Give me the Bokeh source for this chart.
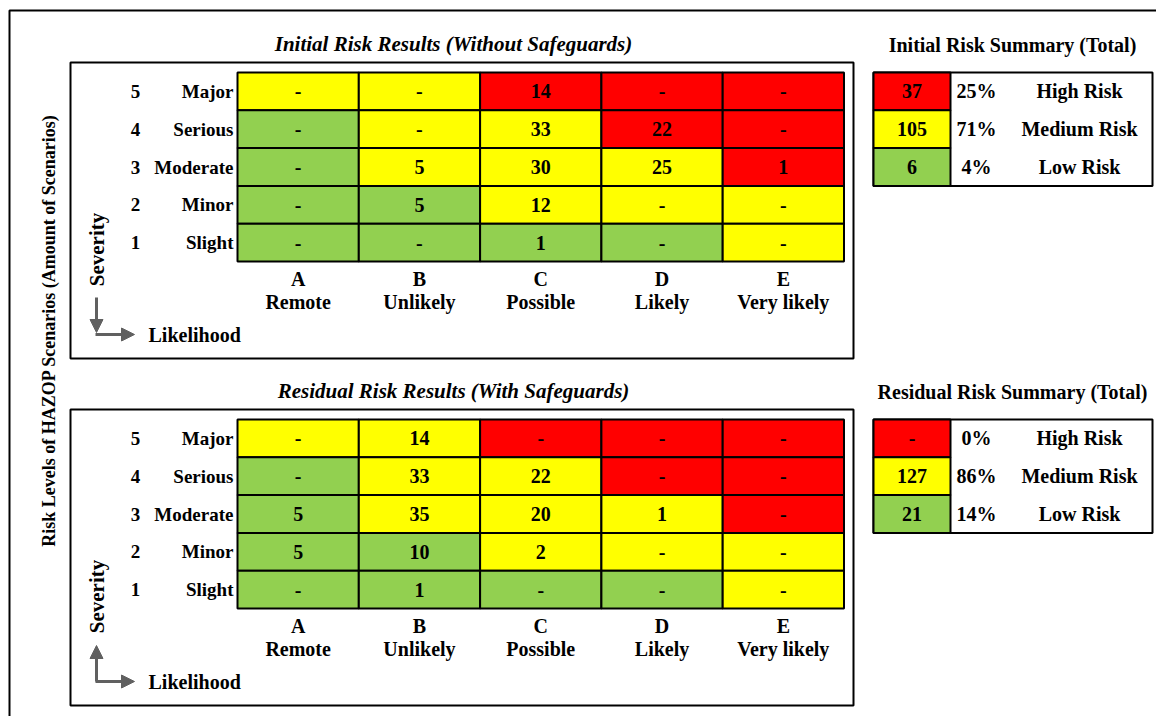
import math
from bokeh.plotting import figure
from bokeh.models import Range1d, Arrow, NormalHead
from bokeh.core.properties import value
from bokeh.embed import file_html
from bokeh.resources import INLINE

# ---------------- data ----------------
likelihood_letters = ["A", "B", "C", "D", "E"]
likelihood_names = ["Remote", "Unlikely", "Possible", "Likely", "Very likely"]
severity_levels = [5, 4, 3, 2, 1]
severity_names = ["Major", "Serious", "Moderate", "Minor", "Slight"]

# risk class per cell (rows: severity 5..1, cols: likelihood A..E)
risk_class = [
    ["M", "M", "H", "H", "H"],
    ["L", "M", "M", "H", "H"],
    ["L", "M", "M", "M", "H"],
    ["L", "L", "M", "M", "M"],
    ["L", "L", "L", "L", "M"],
]
initial_counts = [
    [0, 0, 14, 0, 0],
    [0, 0, 33, 22, 0],
    [0, 5, 30, 25, 1],
    [0, 5, 12, 0, 0],
    [0, 0, 1, 0, 0],
]
residual_counts = [
    [0, 14, 0, 0, 0],
    [0, 33, 22, 0, 0],
    [5, 35, 20, 1, 0],
    [5, 10, 2, 0, 0],
    [0, 1, 0, 0, 0],
]
summary_classes = ["H", "M", "L"]
summary_labels = ["High Risk", "Medium Risk", "Low Risk"]
initial_summary = [37, 105, 6]
initial_pct = ["25%", "71%", "4%"]
residual_summary = [0, 127, 21]
residual_pct = ["0%", "86%", "14%"]

titles = ["Initial Risk Results (Without Safeguards)", "Residual Risk Results (With Safeguards)"]
summary_titles = ["Initial Risk Summary (Total)", "Residual Risk Summary (Total)"]
main_title = "Risk Levels of HAZOP Scenarios (Amount of Scenarios)"

colors = {"H": "#FF0000", "M": "#FFFF00", "L": "#92D050"}

# ---------------- layout ----------------
W, H = 1156, 716
FONT = value("Liberation Serif")
p = figure(width=W, height=H, x_range=Range1d(0, W), y_range=Range1d(H, 0),
           output_backend="svg", toolbar_location=None, min_border=0,
           x_axis_location=None, y_axis_location=None)
p.grid.visible = False
p.outline_line_color = None
p.background_fill_color = "white"

# outer border
p.quad(left=[9], right=[1175], top=[10], bottom=[735], fill_color=None,
       line_color="black", line_width=2)


def txt(xs, ys, texts, align="center", style="bold", size="20px", color="black", angle=0.0):
    p.text(x=xs, y=ys, text=texts, angle=angle, text_align=align, text_baseline="middle",
           text_font=FONT, text_font_style=style, text_font_size=size, text_color=color)


# vertical main title
txt([48], [330], [main_title], size="18px", angle=math.pi / 2)

GX0, GY0 = 237.0, 72.0
CW, CH = 121.3, 37.8
PANEL_DY = 347.0
SX0, SCW0, SW = 873.0, 77.0, 279.0
GREY = "#606060"

for k, counts in enumerate([initial_counts, residual_counts]):
    dy = k * PANEL_DY
    gy0 = GY0 + dy
    # box
    p.quad(left=[70], right=[853], top=[62 + dy], bottom=[358 + dy], fill_color=None,
           line_color="black", line_width=2)
    # title
    txt([453], [43 + dy], [titles[k]], style="bold italic", size="21px")
    # cells
    xs, ys, fc, labels = [], [], [], []
    for r in range(5):
        for c in range(5):
            xs.append(GX0 + CW * (c + 0.5))
            ys.append(gy0 + CH * (r + 0.5))
            fc.append(colors[risk_class[r][c]])
            v = counts[r][c]
            labels.append(str(v) if v else "-")
    p.rect(x=xs, y=ys, width=CW, height=CH, fill_color=fc, line_color="black", line_width=2)
    txt(xs, ys, labels)
    # row labels
    rys = [gy0 + CH * (r + 0.5) for r in range(5)]
    txt([135] * 5, rys, [str(s) for s in severity_levels], size="19px")
    txt([233] * 5, rys, severity_names, align="right", size="19px")
    # column labels
    cxs = [GX0 + CW * (c + 0.5) for c in range(5)]
    txt(cxs, [278 + dy] * 5, likelihood_letters, size="20px")
    txt(cxs, [301 + dy] * 5, likelihood_names, size="20px")
    # severity / likelihood with arrows
    txt([96], [249 + dy], ["Severity"], angle=math.pi / 2, size="21px")
    txt([148], [334 + dy if k == 0 else 681], ["Likelihood"], align="left", size="20px")
    head = dict(size=13, fill_color=GREY, line_color=GREY)
    if k == 0:
        p.add_layout(Arrow(end=NormalHead(**head), x_start=96, y_start=297, x_end=96, y_end=332,
                           line_color=GREY, line_width=3))
        p.add_layout(Arrow(end=NormalHead(**head), x_start=95, y_start=334, x_end=134, y_end=334,
                           line_color=GREY, line_width=3))
    else:
        p.add_layout(Arrow(end=NormalHead(**head), x_start=96, y_start=681, x_end=96, y_end=645,
                           line_color=GREY, line_width=3))
        p.add_layout(Arrow(end=NormalHead(**head), x_start=95, y_start=681, x_end=134, y_end=681,
                           line_color=GREY, line_width=3))

    # summary table
    sums = [initial_summary, residual_summary][k]
    pcts = [initial_pct, residual_pct][k]
    sy = [gy0 + CH * (r + 0.5) for r in range(3)]
    txt([1012], [45 + dy - 1], [summary_titles[k]], size="20px")
    p.quad(left=[SX0], right=[SX0 + SW], top=[gy0], bottom=[gy0 + 3 * CH], fill_color="white",
           line_color="black", line_width=2)
    p.rect(x=[SX0 + SCW0 / 2] * 3, y=sy, width=SCW0, height=CH,
           fill_color=[colors[c] for c in summary_classes], line_color="black", line_width=2)
    txt([SX0 + SCW0 / 2] * 3, sy, [str(v) if v else "-" for v in sums])
    txt([976] * 3, sy, pcts)
    txt([1079] * 3, sy, summary_labels)

open("out.html", "w").write(file_html(p, INLINE))
